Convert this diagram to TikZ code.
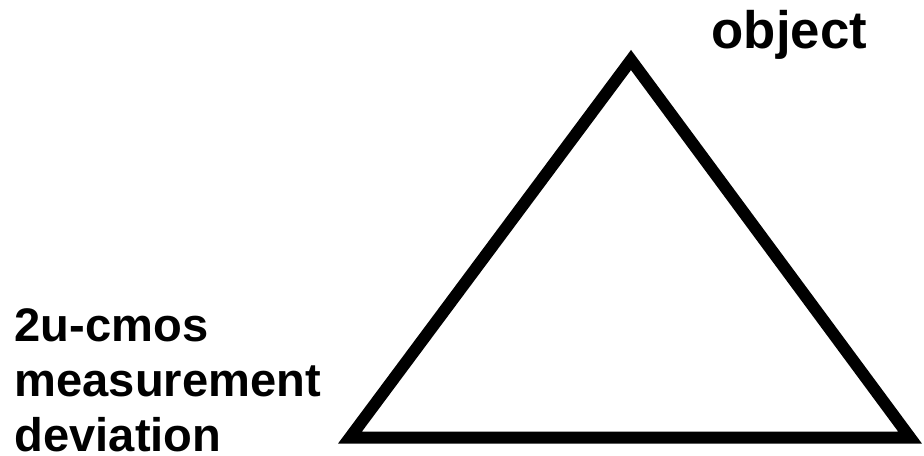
\documentclass[tikz,border=0pt]{standalone}
\usepackage{fontspec}
\setmainfont{Liberation Sans}
\begin{document}
\begin{tikzpicture}[lbl/.style={inner sep=0pt, font=\bfseries}]
            \useasboundingbox (0,0) rectangle (9.24,4.55);
            \coordinate (top) at (6.31,3.95);
            \coordinate (bl) at (3.50,0.175);
            \coordinate (br) at (9.10,0.175);
            \draw[line width=0.12cm, line join=miter] (top) -- (br) -- (bl) -- cycle;
            \node[lbl, anchor=base west, font=\fontsize{15}{18}\bfseries] (obj) at (7.11,4.07) {object};
            \node[lbl, anchor=base west, align=left, font=\fontsize{13.4}{15.6}\bfseries] (dev) at (0.14,0.04) {2u-cmos\\measurement\\deviation};
        \end{tikzpicture}
\end{document}
